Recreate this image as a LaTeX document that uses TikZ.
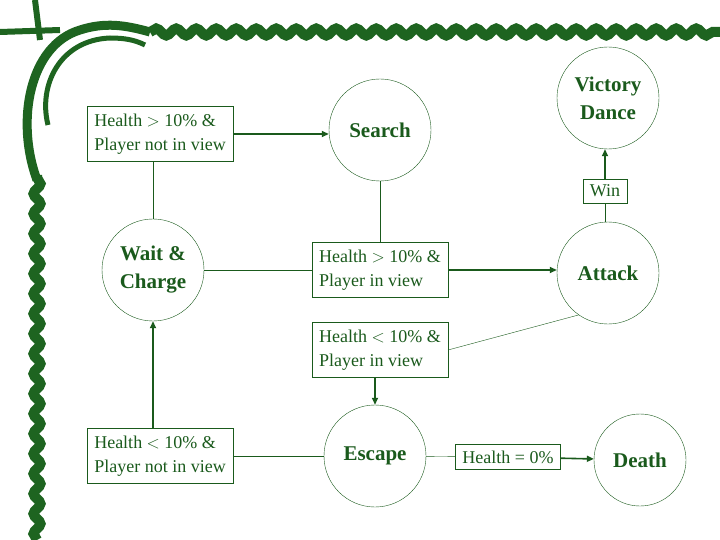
\documentclass[tikz,border=0pt]{standalone}
\usepackage{fontspec}
\setmainfont{Liberation Serif}
\usetikzlibrary{decorations.pathmorphing,arrows.meta}
\definecolor{vg}{HTML}{1E6420}
\definecolor{tg}{HTML}{1A5A1C}
\begin{document}
\begin{tikzpicture}[x=1pt,y=-1pt,
  st/.style={circle,draw=tg,thin,minimum size=102pt,inner sep=0pt,align=center,text=tg,font=\bfseries\fontsize{21}{28}\selectfont},
  cond/.style={draw=tg,thin,align=left,text=tg,font=\fontsize{18}{24}\selectfont,inner xsep=7pt,inner ysep=4pt,minimum height=55pt},
  ln/.style={draw=tg,thin},
  ar/.style={draw=tg,line width=1.6pt,-{Triangle[length=7pt,width=6pt]}},
  vine/.style={draw=vg,line width=10pt,decorate,decoration={snake,amplitude=3.5pt,segment length=20pt}}]
\useasboundingbox (0,0) rectangle (720,540);
% border
\path[vine] (37,540) -- (37,175);
\path[vine] (150,32) -- (720,32);
\draw[vg,line width=9pt] (37,180) .. controls (15,120) and (30,45) .. (80,30) .. controls (105,22) and (125,25) .. (150,32);
\draw[vg,line width=5pt] (48,125) .. controls (38,85) and (60,40) .. (110,38) .. controls (125,38) and (135,40) .. (145,45);
\draw[vg,line width=6pt] (0,32) -- (60,30);
\draw[vg,line width=6pt] (35,0) -- (40,40);
% nodes
\node[cond] (c1) at (160,134) {Health $>$ 10\% \&\\Player not in view};
\node[st] (search) at (380,130) {Search};
\node[st] (victory) at (608,98) {Victory\\Dance};
\node[cond,minimum height=0pt,inner ysep=6pt] (win) at (605,191) {Win};
\node[st] (wait) at (153,270) {Wait \&\\Charge};
\node[cond] (c2) at (380,270) {Health $>$ 10\% \&\\Player in view};
\node[st] (attack) at (608,273) {Attack};
\node[cond] (c3) at (380,350) {Health $<$ 10\% \&\\Player in view};
\node[cond] (c4) at (160,456) {Health $<$ 10\% \&\\Player not in view};
\node[st] (escape) at (375,456) {Escape};
\node[cond,minimum height=0pt,inner ysep=6pt] (c5) at (508,457) {Health = 0\%};
\node[st,minimum size=92pt] (death) at (640,460) {Death};
% connectors
\draw[ar] (c1.east) -- (search.west |- c1.east);
\draw[ln] (c1.south -| wait.north) -- (wait.north);
\draw[ln] (search) -- (c2);
\draw[ln] (wait) -- (c2);
\draw[ar] (c2.east) -- (attack.west |- c2.east);
\draw[ln] (c3.east) -- (attack.235);
\draw[ar] (c3.south -| escape.north) -- (escape.north);
\draw[ar] (c4.north -| wait.south) -- (wait.south);
\draw[ln] (c4) -- (escape);
\draw[ln] (escape) -- (c5);
\draw[ar] (c5) -- (death);
\draw[ln] (attack.north -| win) -- (win);
\draw[ar] (win.north) -- (victory.south -| win.north);
\end{tikzpicture}
\end{document}
